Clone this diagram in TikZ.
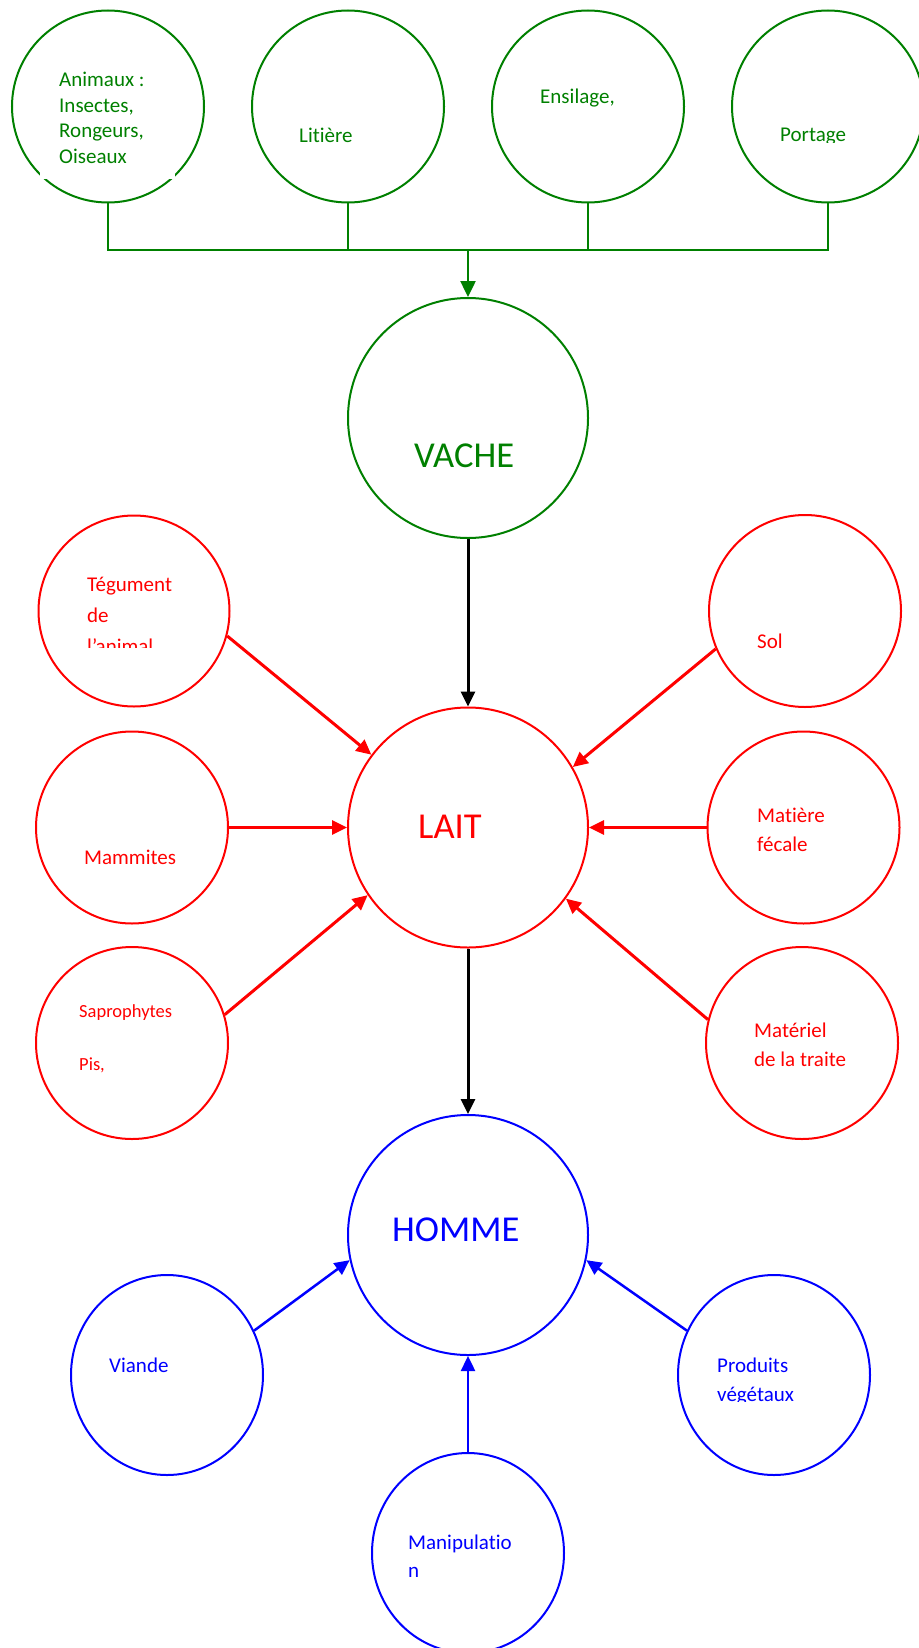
\documentclass[tikz,border=0pt]{standalone}
\usepackage{fontspec}
\setmainfont{Carlito}[Ligatures={NoCommon,NoContextual}]
\usetikzlibrary{arrows.meta,shapes.geometric}
\definecolor{grn}{RGB}{0,128,0}
\definecolor{rd}{RGB}{255,0,0}
\definecolor{bl}{RGB}{0,0,255}
\begin{document}
\begin{tikzpicture}[x=1pt,y=-1pt,
  bubble/.style={circle,draw,inner sep=0pt,line width=2pt,minimum size=#1},
  oval/.style={ellipse,draw,inner sep=0pt,line width=2pt,minimum width=192pt,minimum height=200pt},
  txt/.style={anchor=base west,inner sep=0pt,font=\fontsize{21}{25}\selectfont},
  smalltxt/.style={anchor=base west,inner sep=0pt,font=\fontsize{18.5}{22}\selectfont},
  bigtxt/.style={anchor=base west,inner sep=0pt,font=\fontsize{36.5}{44}\selectfont},
  tip/.style={-{Triangle[length=15pt,width=14pt]}},
  gline/.style={grn,line width=2pt},
  link/.style={tip,line width=3pt},
]
\useasboundingbox (0,0) rectangle (918,1648);
\fill[white] (0,0) rectangle (918,1648);

% ---- sources of contamination of the cow (green)
\node[bubble=192pt,grn] (animaux)  at (108,106.5) {};
\node[bubble=192pt,grn] (litiere)  at (348,106.5) {};
\node[bubble=192pt,grn] (ensilage) at (588,106.5) {};
\node[bubble=192pt,grn] (portage)  at (828,106.5) {};
\node[bubble=240pt,grn] (vache)    at (468,418) {};

% white text frame over the first bubble
\fill[white] (40,45) rectangle (175,179);
\node[txt,grn] (animaux-l1) at (59,87)  {Animaux :};
\node[txt,grn] (animaux-l2) at (59,113) {Insectes,};
\node[txt,grn] (animaux-l3) at (59,138) {Rongeurs,};
\node[txt,grn] (animaux-l4) at (59,164) {Oiseaux};
\node[txt,grn] (litiere-l1) at (299,143) {Litière};
\node[txt,grn] (ensilage-l1) at (540,104) {Ensilage,};
\begin{scope}
  \clip (760,100) rectangle (900,143);
  \node[txt,grn] (portage-l1) at (780,142) {Portage};
\end{scope}
\node[bigtxt,grn] (vache-l1) at (414,467) {VACHE};

\coordinate (busy) at (0,250);
\draw[gline] (animaux.south) -- (animaux.south |- busy) -- (portage.south |- busy) -- (portage.south);
\draw[gline] (litiere.south) -- (litiere.south |- busy);
\draw[gline] (ensilage.south) -- (ensilage.south |- busy);
\draw[gline,line width=2.5pt,-{Triangle[length=16pt,width=15pt]}] (vache.north |- busy) -- (vache.north);

% ---- sources of contamination of the milk (red)
\node[bubble=240pt,rd] (lait) at (468,827.5) {};
\node[bubble=191pt,rd] (tegument)  at (134,611) {};
\node[bubble=192pt,rd] (mammites)  at (132,827.5) {};
\node[bubble=192pt,rd] (sapro)     at (132,1043) {};
\node[bubble=192pt,rd] (sol)       at (805,611) {};
\node[bubble=192pt,rd] (matiere)   at (803.5,827.5) {};
\node[bubble=192pt,rd] (materiel)  at (802,1043) {};

\node[bigtxt,rd] (lait-l1) at (418,838) {LAIT};
\node[txt,rd] (tegument-l1) at (87,591) {Tégument};
\node[txt,rd] (tegument-l2) at (87,622) {de};
\begin{scope}
  \clip (80,630) rectangle (200,647);
  \node[txt,rd] (tegument-l3) at (87,653) {l’animal};
\end{scope}
\node[txt,rd] (mammites-l1) at (84,864) {Mammites};
\node[smalltxt,rd] (sapro-l1) at (79,1017) {Saprophytes};
\node[smalltxt,rd] (sapro-l2) at (79,1070) {Pis,};
\node[txt,rd] (sol-l1) at (757,648) {Sol};
\node[txt,rd] (matiere-l1) at (757,822) {Matière};
\node[txt,rd] (matiere-l2) at (757,851) {fécale};
\node[txt,rd] (materiel-l1) at (754,1037) {Matériel};
\node[txt,rd] (materiel-l2) at (754,1066) {de la traite};

\draw[link,rd] (tegument.-15) -- (lait.143);
\draw[link,rd] (mammites.0) -- (lait.180);
\draw[link,rd] (sapro.17) -- (lait.214);
\draw[link,rd] (sol.203) -- (lait.30);
\draw[link,rd] (matiere.180) -- (lait.0);
\draw[link,rd] (materiel.166) -- (lait.-36);

% ---- sources of contamination of man (blue)
\node[bubble=240pt,bl] (homme) at (468,1235) {};
\node[oval,bl] (viande)   at (167,1375) {};
\node[oval,bl] (produits) at (774,1375) {};
\node[oval,bl] (manip)    at (468,1553) {};

\node[bigtxt,bl] (homme-l1) at (392,1241) {HOMME};
\node[txt,bl] (viande-l1) at (109,1372) {Viande};
\node[txt,bl] (produits-l1) at (717,1372) {Produits};
\begin{scope}
  \clip (700,1380) rectangle (860,1401);
  \node[txt,bl] (produits-l2) at (717,1401) {végétaux};
\end{scope}
\node[txt,bl] (manip-l1) at (408,1549) {Manipulatio};
\node[txt,bl] (manip-l2) at (408,1577) {n};

\draw[link,bl,line width=2.5pt] (viande.27) -- (homme.192);
\draw[link,bl,line width=2.5pt] (produits.153) -- (homme.-12);
\draw[link,bl,line width=2.5pt] (manip.north) -- (homme.south);

% ---- main chain
\draw[link,black] (vache.south) -- (lait.north);
\draw[link,black] (lait.south) -- (homme.north);
\end{tikzpicture}
\end{document}
